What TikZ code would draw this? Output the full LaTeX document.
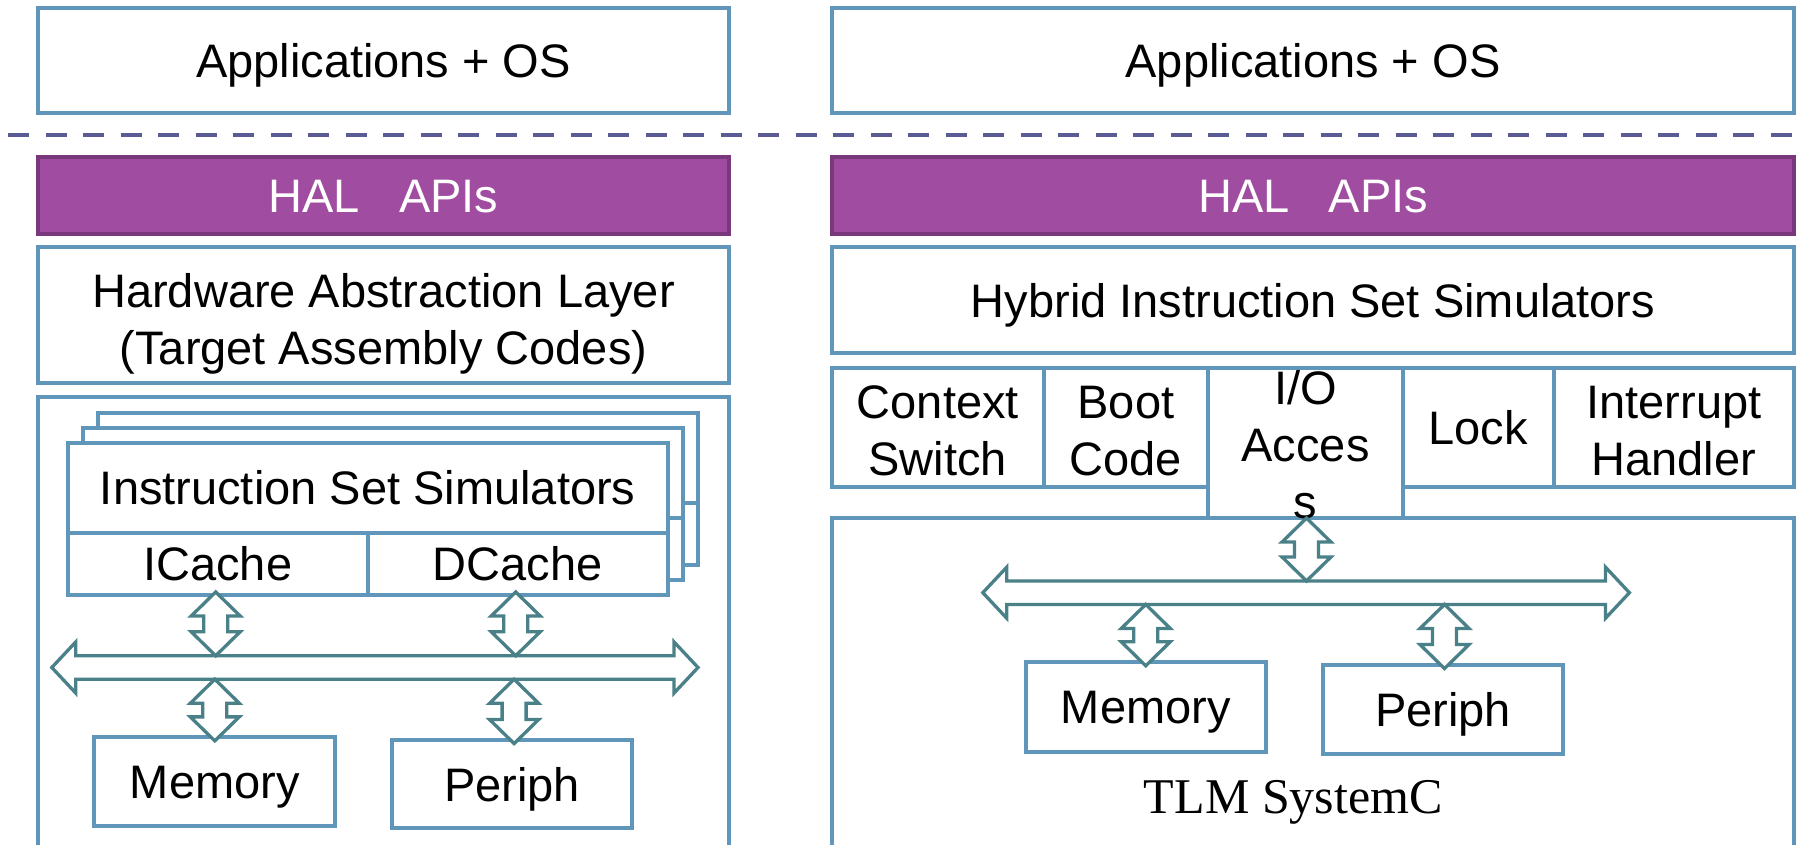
\documentclass[tikz,border=0pt]{standalone}
\usepackage{fontspec}
\setmainfont{Liberation Sans}
\newfontfamily\tlmserif{Liberation Serif}
\usetikzlibrary{calc}
\definecolor{boxblue}{HTML}{6096BA}
\definecolor{busteal}{HTML}{4A8087}
\definecolor{sepblue}{HTML}{5A5A94}
\definecolor{halfill}{HTML}{A04CA0}
\definecolor{halborder}{HTML}{7A387C}
\newcommand\mlines[2][0pt]{\raisebox{-#1}{\begin{tabular}[b]{@{}c@{}}#2\end{tabular}}}
\newcommand\vbiarrow[2]{%
  \draw[busline] let \p1=(#1), \p2=(#2) in
    (\x1,\y1) -- ({\x1-24.5pt},{\y1-24pt}) -- ({\x1-12pt},{\y1-24pt})
    -- ({\x1-12pt},{\y2+24pt}) -- ({\x1-24.5pt},{\y2+24pt}) -- (\x1,\y2)
    -- ({\x1+24.5pt},{\y2+24pt}) -- ({\x1+12pt},{\y2+24pt})
    -- ({\x1+12pt},{\y1-24pt}) -- ({\x1+24.5pt},{\y1-24pt}) -- cycle;}
\newcommand\hbiarrow[2]{%
  \draw[busline] let \p1=(#1), \p2=(#2) in
    (\x1,\y1) -- ({\x1+24pt},{\y1+25.6pt}) -- ({\x1+24pt},{\y1+11.75pt})
    -- ({\x2-24pt},{\y1+11.75pt}) -- ({\x2-24pt},{\y1+25.6pt}) -- (\x2,\y1)
    -- ({\x2-24pt},{\y1-25.6pt}) -- ({\x2-24pt},{\y1-11.75pt})
    -- ({\x1+24pt},{\y1-11.75pt}) -- ({\x1+24pt},{\y1-25.6pt}) -- cycle;}
\tikzset{
  box/.style={draw=boxblue, line width=4pt, fill=white, inner sep=0pt, outer sep=0pt,
    font=\fontsize{47}{57}\selectfont, text height=33.6pt, text depth=0pt},
  halbox/.style={box, draw=halborder, fill=halfill, text=white},
  busline/.style={draw=busteal, line width=3.3pt, fill=white, line join=miter},
  sepline/.style={draw=sepblue, line width=4.7pt, dash pattern=on 21pt off 16.5pt},
}
\begin{document}
\begin{tikzpicture}[x=1pt,y=-1pt]
\useasboundingbox (0,0) rectangle (1806,844);
\clip (0,0) rectangle (1806,844);

% separator
\coordinate (sepL) at (8.3,135);
\coordinate (sepR) at (1816,135);
\draw[sepline] (sepL) -- (sepR);

% ---------------- left column ----------------
\node[box, minimum width=691pt, minimum height=105pt] (appsL) at (383.5,60.5) {Applications + OS};
\node[halbox, minimum width=691pt, minimum height=77pt] (halL) at (383.5,195.5) {HAL\ \ \ APIs};
\node[box, minimum width=691pt, minimum height=136pt, text height=93.4pt] (hwL) at (383.5,315)
  {\mlines[3pt]{Hardware Abstraction Layer\\(Target Assembly Codes)}};
\node[box, minimum width=691pt, minimum height=503pt] (outerL) at (383.5,648.5) {};

% ISS stack (back layers)
\node[box, minimum width=600pt, minimum height=90pt] (iss2t) at (397.7,457.7) {};
\node[box, minimum width=600pt, minimum height=62.3pt] (iss2b) at (397.7,533.85) {};
\node[box, minimum width=600pt, minimum height=90pt] (iss1t) at (382.7,472.7) {};
\node[box, minimum width=600pt, minimum height=62.3pt] (iss1b) at (382.7,548.85) {};
% front layer
\node[box, minimum width=600pt, minimum height=90pt] (iss) at (367.7,487.7) {Instruction Set Simulators};
\node[box, minimum width=300pt, minimum height=62.3pt] (ic) at (217.7,563.85) {ICache};
\node[box, minimum width=300pt, minimum height=62.3pt] (dc) at (517.7,563.85) {DCache};

\node[box, minimum width=241pt, minimum height=88.7pt] (memL) at (214.8,781.7) {Memory};
\node[box, minimum width=240.4pt, minimum height=88.3pt] (perL) at (512.1,784.2) {Periph};

% left bus
\coordinate (busLl) at (51.8,667.5);
\coordinate (busLr) at (698,667.5);
\hbiarrow{busLl}{busLr}
\vbiarrow{$(ic.south)+(-2,-3)$}{$(ic.south |- busLl)+(-2,-11.75)$}
\vbiarrow{$(dc.south)+(-2,-3)$}{$(dc.south |- busLl)+(-2,-11.75)$}
\vbiarrow{$(memL.north |- busLl)+(0,11.75)$}{$(memL.north)+(0,3.5)$}
\vbiarrow{$(perL.north |- busLl)+(2,11.75)$}{$(perL.north)+(2,3.5)$}

% ---------------- right column ----------------
\node[box, minimum width=962pt, minimum height=105pt] (appsR) at (1313,60.5) {Applications + OS};
\node[halbox, minimum width=962pt, minimum height=77pt] (halR) at (1313,195.5) {HAL\ \ \ APIs};
\node[box, minimum width=962pt, minimum height=106.3pt] (hybR) at (1313,300.2) {Hybrid Instruction Set Simulators};

\node[box, minimum width=962pt, minimum height=381.7pt] (tlm) at (1313,709.15) {};

\node[box, minimum width=211.7pt, minimum height=119pt, text height=94.4pt] (ctx) at (937.85,427.8)
  {\mlines{Context\\Switch}};
\node[box, minimum width=164.3pt, minimum height=119pt, text height=94.4pt] (boot) at (1125.85,427.8)
  {\mlines{Boot\\Code}};
\node[box, minimum width=195pt, minimum height=149.7pt, text height=140.2pt] (io) at (1305.5,443.2)
  {\mlines[5pt]{I/O\\Acces\\s}};
\node[box, minimum width=150.7pt, minimum height=119pt] (lock) at (1478.35,427.8) {Lock};
\node[box, minimum width=240.3pt, minimum height=119pt, text height=94.4pt] (intr) at (1673.85,427.8)
  {\mlines{Interrupt\\Handler}};

\node[box, minimum width=240pt, minimum height=89.4pt] (memR) at (1145.75,707) {Memory};
\node[box, minimum width=240.5pt, minimum height=89.3pt] (perR) at (1443,709.7) {Periph};

\node[anchor=base, inner sep=0pt, font=\tlmserif\fontsize{50}{60}\selectfont] (tlmlabel) at (1293.3,813.3) {TLM SystemC};

% right bus
\coordinate (busRl) at (982.8,592.7);
\coordinate (busRr) at (1629.4,592.7);
\hbiarrow{busRl}{busRr}
\vbiarrow{$(io.south)+(1,0)$}{$(io.south |- busRl)+(1,-11.75)$}
\vbiarrow{$(memR.north |- busRl)+(0,11.75)$}{$(memR.north)+(0,3.5)$}
\vbiarrow{$(perR.north |- busRl)+(1.5,11.75)$}{$(perR.north)+(1.5,3.5)$}
\end{tikzpicture}
\end{document}
